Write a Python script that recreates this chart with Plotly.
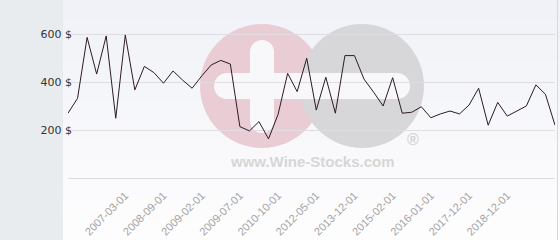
import plotly.graph_objects as go

dates = [
    "2005-05-01", "2005-09-01", "2006-01-01", "2006-05-01", "2006-09-01", "2006-12-01",
    "2007-03-01", "2007-07-01", "2007-11-01", "2008-03-01",
    "2008-09-01", "2008-10-01", "2008-11-01", "2008-12-01",
    "2009-02-01", "2009-03-01", "2009-04-01", "2009-05-01",
    "2009-07-01", "2009-10-01", "2010-01-01", "2010-04-01",
    "2010-10-01", "2011-02-01", "2011-06-01", "2011-10-01",
    "2012-05-01", "2012-09-01", "2013-01-01", "2013-05-01",
    "2013-12-01", "2014-03-01", "2014-06-01", "2014-09-01",
    "2015-02-01", "2015-04-01", "2015-06-01", "2015-09-01",
    "2016-01-01", "2016-06-01", "2016-11-01", "2017-04-01",
    "2017-12-01", "2018-03-01", "2018-06-01", "2018-09-01",
    "2018-12-01", "2019-03-01", "2019-06-01", "2019-09-01", "2019-12-01", "2020-03-01",
]
prices = [
    270, 332, 586, 433, 592, 249, 596, 367, 465, 439, 395, 446, 408,
    374, 425, 471, 490, 475, 214, 196, 235, 163, 265, 436, 360, 499,
    283, 420, 270, 510, 510, 412, 358, 300, 418, 270, 274, 297, 251,
    267, 279, 267, 304, 374, 220, 315, 258, 279, 300, 388, 349, 220,
]
tick_labels = [
    "2007-03-01", "2008-09-01", "2009-02-01", "2009-07-01", "2010-10-01",
    "2012-05-01", "2013-12-01", "2015-02-01", "2016-01-01", "2017-12-01", "2018-12-01",
]
y_ticks = [0, 200, 400, 600]
y_tick_text = ["", "200 $", "400 $", "600 $"]

W, H = 560, 240
L, R, T, B = 68, 5, 0, 62
PW, PH = W - L - R, H - T - B


def px(x):
    return (x - L) / PW


def py(y):
    return (H - B - y) / PH


shapes = []
# background gradient bands (right area)
n = 12
top_c = (241, 242, 247)
bot_c = (253, 253, 254)
for i in range(n):
    f = i / (n - 1)
    c = tuple(int(round(top_c[k] + (bot_c[k] - top_c[k]) * f)) for k in range(3))
    y0 = H * i / n
    y1 = H * (i + 1) / n + 1
    shapes.append(dict(type="rect", xref="paper", yref="paper", layer="below",
                       x0=px(63), x1=px(560), y0=py(y1), y1=py(y0),
                       fillcolor="rgb(%d,%d,%d)" % c, line=dict(width=0)))
# left grey panel
shapes.append(dict(type="rect", xref="paper", yref="paper", layer="below",
                   x0=px(0), x1=px(63), y0=py(240), y1=py(0),
                   fillcolor="#e8ecef", line=dict(width=0)))
# right edge line
shapes.append(dict(type="line", xref="paper", yref="paper", layer="below",
                   x0=px(557.5), x1=px(557.5), y0=py(240), y1=py(0),
                   line=dict(color="#d8d8dc", width=1)))


def circ(cx, cy, r, color):
    return dict(type="circle", xref="paper", yref="paper", layer="between",
                x0=px(cx - r), x1=px(cx + r), y0=py(cy + r), y1=py(cy - r),
                fillcolor=color, line=dict(width=0))


def rect(x0, y0, x1, y1, color):
    return dict(type="rect", xref="paper", yref="paper", layer="between",
                x0=px(x0), x1=px(x1), y0=py(y1), y1=py(y0),
                fillcolor=color, line=dict(width=0))


pink = "#eaccd4"
grey = "#d7d7da"
white = "#f8f8fb"
shapes += [
    circ(262, 86, 62, pink),
    circ(362, 86, 62, grey),
    # horizontal pill
    rect(227, 73, 397, 99, white),
    circ(227, 86, 13, white),
    circ(397, 86, 13, white),
    # vertical bar of plus
    rect(250, 52, 274, 121, white),
    circ(262, 52, 12, white),
    circ(262, 121, 12, white),
]

annotations = [
    dict(text="<b>www.Wine-Stocks.com</b>", xref="paper", yref="paper",
         x=px(312.5), y=py(161.5), xanchor="center", yanchor="middle", showarrow=False,
         font=dict(family="Liberation Sans, Arial", size=15, color="#d6d6d6")),
    dict(text="<b>®</b>", xref="paper", yref="paper",
         x=px(413), y=py(139), xanchor="center", yanchor="middle", showarrow=False,
         font=dict(family="Liberation Sans, Arial", size=16, color="#d4d4d4")),
]

fig = go.Figure()
fig.add_trace(go.Scatter(x=dates, y=prices, mode="lines",
                         line=dict(color="#2e1a27", width=1), hoverinfo="skip"))

fig.update_layout(
    width=W, height=H,
    margin=dict(l=L, r=R, t=T, b=B, pad=0, autoexpand=False),
    paper_bgcolor="#f8f8fb",
    plot_bgcolor="rgba(0,0,0,0)",
    showlegend=False,
    shapes=shapes,
    annotations=annotations,
    xaxis=dict(type="category", range=[0, len(dates) - 1], automargin=False,
               tickmode="array", tickvals=tick_labels, ticktext=tick_labels,
               tickangle=-45, showgrid=False, zeroline=False, showline=False,
               ticks="", ticklabelstandoff=8,
               tickfont=dict(family="Liberation Sans, Arial", size=11, color="#a3a3a3")),
    yaxis=dict(range=[0, PH / 0.24], tickmode="array", tickvals=y_ticks,
               ticktext=y_tick_text, automargin=False,
               showgrid=True, gridcolor="#dedee2", gridwidth=1,
               zeroline=True, zerolinecolor="#dedee2", zerolinewidth=1,
               showline=False, ticks="", ticklabelstandoff=-5,
               tickfont=dict(family="DejaVu Sans", size=11, color="#333333")),
)

fig.write_html("out.html")
